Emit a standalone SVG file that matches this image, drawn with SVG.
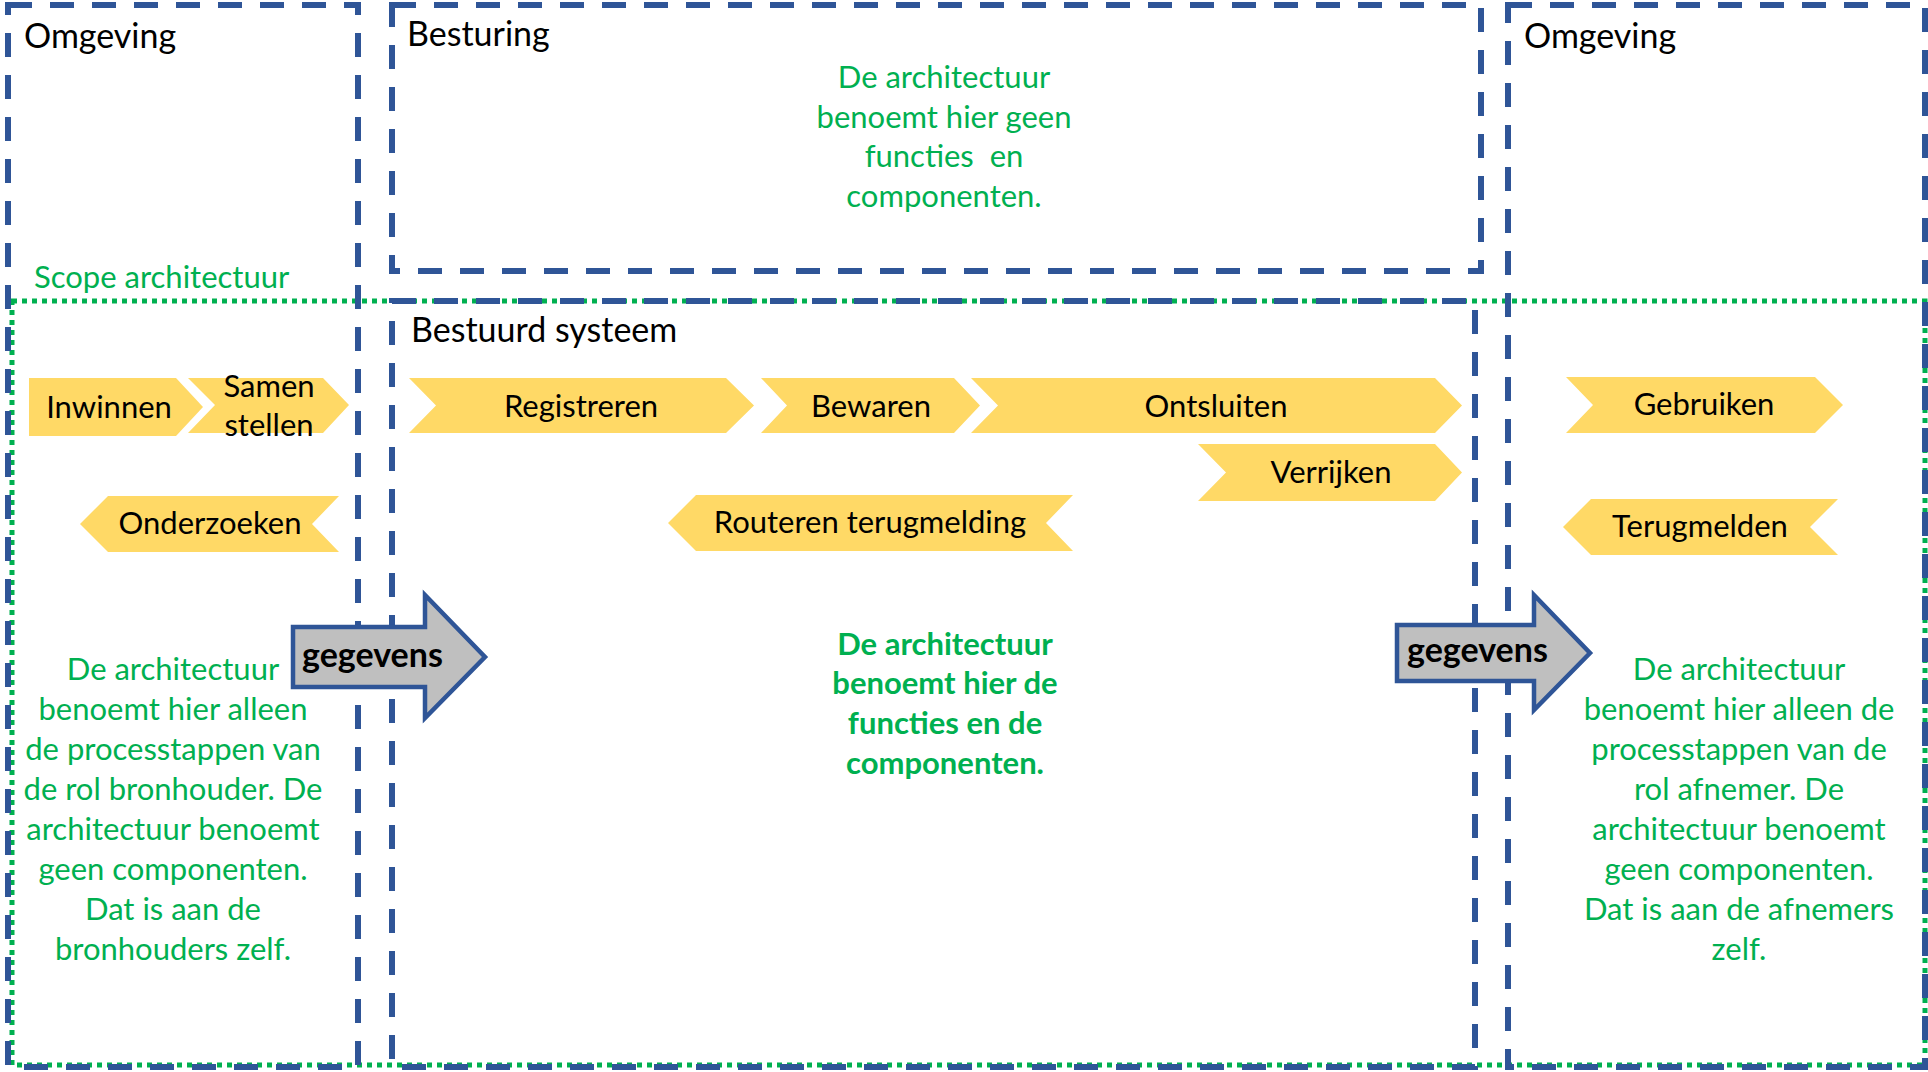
<svg xmlns="http://www.w3.org/2000/svg" width="1928" height="1072" viewBox="0 0 1928 1072">
<style>
.box{fill:none;stroke:#2F5597;stroke-width:6;stroke-dasharray:24 18}
.scope{fill:none;stroke:#00B050;stroke-width:5;stroke-dasharray:5 5}
.step{fill:#FFD966}
.arrow{fill:#BFBFBF;stroke:#2F5597;stroke-width:4.5;stroke-linejoin:miter}
text{font-family:Lato,"Liberation Sans",sans-serif}
.head{font-size:34px;fill:#000}
.lbl{font-size:31px;fill:#000;text-anchor:middle}
.note{font-size:31px;fill:#00B050;text-anchor:middle}
.bold{font-weight:bold}
.gtxt{font-size:34px;font-weight:bold;fill:#000}
</style>
<rect width="1928" height="1072" fill="#fff"/>
<g id="scope">
<rect class="scope" x="12" y="301" width="1913" height="764"/>
<text x="34" y="288" style="font-size:31px;fill:#00B050">Scope architectuur</text>
</g>
<g id="omgeving-links">
<rect class="box" x="8" y="5" width="350" height="1062"/>
<text class="head" x="24" y="48">Omgeving</text>
</g>
<g id="besturing">
<rect class="box" x="392" y="5" width="1089" height="266"/>
<text class="head" x="407" y="46">Besturing</text>
<text class="note" x="944" y="88">De architectuur</text>
<text class="note" x="944" y="128">benoemt hier geen</text>
<text class="note" x="944" y="167" style="white-space:pre">functies  en</text>
<text class="note" x="944" y="207">componenten.</text>
</g>
<g id="bestuurd-systeem">
<rect class="box" x="392" y="301" width="1083" height="766"/>
<text class="head" x="411" y="342">Bestuurd systeem</text>
</g>
<g id="omgeving-rechts">
<rect class="box" x="1508" y="5" width="417" height="1062"/>
<text class="head" x="1524" y="48">Omgeving</text>
</g>
<g id="inwinnen">
<polygon class="step" points="29,378 176,378 203,407 176,436 29,436"/>
<text class="lbl" x="109" y="418">Inwinnen</text>
</g>
<g id="samen-stellen">
<polygon class="step" points="188,378 323,378 349,405 323,433 188,433 215,405"/>
<text class="lbl" x="269" y="397">Samen</text>
<text class="lbl" x="269" y="436">stellen</text>
</g>
<g id="onderzoeken">
<polygon class="step" points="80,524 108,496 339,496 312,524 339,552 108,552"/>
<text class="lbl" x="210" y="534">Onderzoeken</text>
</g>
<g id="registreren">
<polygon class="step" points="409,378 726,378 754,405.5 726,433 409,433 436,405.5"/>
<text class="lbl" x="581" y="417">Registreren</text>
</g>
<g id="bewaren">
<polygon class="step" points="761,378 954,378 980,405.5 954,433 761,433 787,405.5"/>
<text class="lbl" x="871" y="417">Bewaren</text>
</g>
<g id="ontsluiten">
<polygon class="step" points="971,378 1435,378 1462,405.5 1435,433 971,433 998,405.5"/>
<text class="lbl" x="1216" y="417">Ontsluiten</text>
</g>
<g id="verrijken">
<polygon class="step" points="1198,444 1435,444 1462,472.5 1435,501 1198,501 1226,472.5"/>
<text class="lbl" x="1331" y="483">Verrijken</text>
</g>
<g id="routeren-terugmelding">
<polygon class="step" points="668,523 696,495 1073,495 1046,523 1073,551 696,551"/>
<text class="lbl" x="870" y="533">Routeren terugmelding</text>
</g>
<g id="gebruiken">
<polygon class="step" points="1566,377 1815,377 1843,405 1815,433 1566,433 1593,405"/>
<text class="lbl" x="1704" y="415">Gebruiken</text>
</g>
<g id="terugmelden">
<polygon class="step" points="1563,527 1591,499 1838,499 1810,527 1838,555 1591,555"/>
<text class="lbl" x="1700" y="537">Terugmelden</text>
</g>
<g id="connectors">
<g id="gegevens-links">
<polygon class="arrow" points="293,627 425,627 425,595 485,657 425,718 425,687 293,687"/>
<text class="gtxt" x="302" y="667">gegevens</text>
</g>
<g id="gegevens-rechts">
<polygon class="arrow" points="1397,625 1534,625 1534,595 1590,653 1534,710 1534,681 1397,681"/>
<text class="gtxt" x="1407" y="662">gegevens</text>
</g>
</g>
<g id="toelichting-bronhouder">
<text class="note" x="173" y="680">De architectuur</text>
<text class="note" x="173" y="720">benoemt hier alleen</text>
<text class="note" x="173" y="760">de processtappen van</text>
<text class="note" x="173" y="800">de rol bronhouder. De</text>
<text class="note" x="173" y="840">architectuur benoemt</text>
<text class="note" x="173" y="880">geen componenten.</text>
<text class="note" x="173" y="920">Dat is aan de</text>
<text class="note" x="173" y="960">bronhouders zelf.</text>
</g>
<g id="toelichting-bestuurd">
<text class="note bold" x="945" y="655">De architectuur</text>
<text class="note bold" x="945" y="694">benoemt hier de</text>
<text class="note bold" x="945" y="734">functies en de</text>
<text class="note bold" x="945" y="774">componenten.</text>
</g>
<g id="toelichting-afnemer">
<text class="note" x="1739" y="680">De architectuur</text>
<text class="note" x="1739" y="720">benoemt hier alleen de</text>
<text class="note" x="1739" y="760">processtappen van de</text>
<text class="note" x="1739" y="800">rol afnemer. De</text>
<text class="note" x="1739" y="840">architectuur benoemt</text>
<text class="note" x="1739" y="880">geen componenten.</text>
<text class="note" x="1739" y="920">Dat is aan de afnemers</text>
<text class="note" x="1739" y="960">zelf.</text>
</g>
</svg>
